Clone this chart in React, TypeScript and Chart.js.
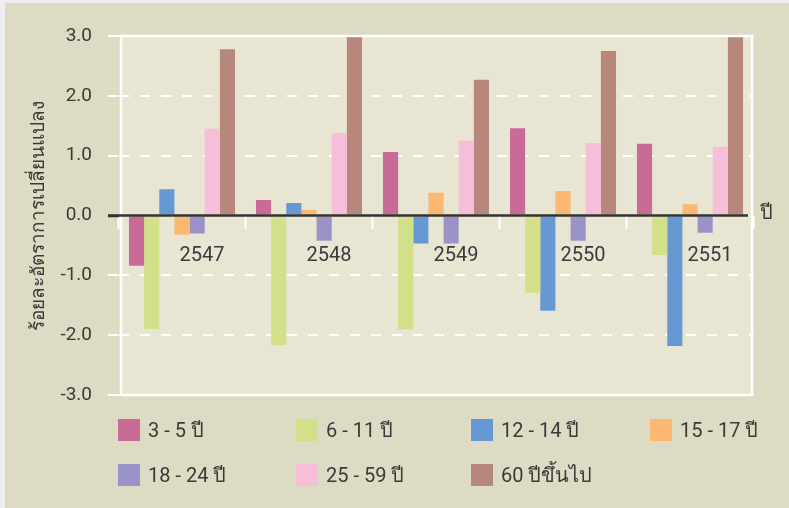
import React, { useEffect, useRef } from "react";
import { Chart, registerables } from "chart.js";

Chart.register(...registerables);

const categories = ["2547", "2548", "2549", "2550", "2551"];
const seriesLabels = ["3 - 5 ปี", "6 - 11 ปี", "12 - 14 ปี", "15 - 17 ปี", "18 - 24 ปี", "25 - 59 ปี", "60 ปีขึ้นไป"];
const age3to5 = [-0.84, 0.26, 1.06, 1.46, 1.2];
const age6to11 = [-1.9, -2.17, -1.9, -1.29, -0.66];
const age12to14 = [0.44, 0.21, -0.47, -1.59, -2.18];
const age15to17 = [-0.32, 0.09, 0.38, 0.41, 0.19];
const age18to24 = [-0.3, -0.42, -0.47, -0.42, -0.29];
const age25to59 = [1.45, 1.38, 1.25, 1.21, 1.15];
const age60plus = [2.78, 2.98, 2.27, 2.75, 2.98];
const seriesValues = [age3to5, age6to11, age12to14, age15to17, age18to24, age25to59, age60plus];
const seriesColors = ["#C86B96", "#D3E08A", "#6699D3", "#FBB870", "#9B93C8", "#F7BED9", "#B8877C"];
const yTitle = "ร้อยละอัตราการเปลี่ยนแปลง";
const xTitle = "ปี";
const yMin = -3;
const yMax = 3;
const yStep = 1;

const FONT = "Roboto, 'Noto Sans', 'DejaVu Sans', sans-serif";
const TEXT = "#3A3A3A";

const framePlugin = {
  id: "frame",
  beforeDraw(chart: any) {
    const { ctx, chartArea } = chart;
    const left = chartArea.left + 2.5;
    const right = chartArea.right - 1.5;
    const { top, bottom } = chartArea;
    ctx.save();
    ctx.fillStyle = "#E8E5D3";
    ctx.fillRect(left, top, right - left, bottom - top);
    ctx.strokeStyle = "#FFFFFF";
    ctx.lineWidth = 2.5;
    ctx.strokeRect(left, top, right - left, bottom - top);
    ctx.restore();
  },
  afterDatasetsDraw(chart: any) {
    const { ctx, chartArea, scales } = chart;
    const y = scales.y.getPixelForValue(0);
    ctx.save();
    ctx.strokeStyle = "#333333";
    ctx.lineWidth = 2.5;
    ctx.beginPath();
    ctx.moveTo(chartArea.left - 10.5, y);
    ctx.lineTo(chartArea.right - 5.5, y);
    ctx.stroke();
    ctx.restore();
  },
};

function ChartCanvas() {
  const ref = useRef<HTMLCanvasElement | null>(null);
  useEffect(() => {
    if (!ref.current) return;
    const chart = new Chart(ref.current, {
      type: "bar",
      data: {
        labels: categories,
        datasets: seriesValues.map((d, i) => ({
          label: seriesLabels[i],
          data: d,
          backgroundColor: seriesColors[i],
          borderWidth: 0,
          barPercentage: 1,
          categoryPercentage: 0.835,
        })),
      },
      options: {
        animation: false,
        responsive: false,
        maintainAspectRatio: false,
        layout: { padding: { top: 36, right: 35.5, bottom: 113, left: 0 } },
        plugins: { legend: { display: false }, tooltip: { enabled: false } },
        scales: {
          x: {
            position: { y: 0 } as any,
            z: 1,
            grid: {
              display: true,
              drawOnChartArea: false,
              drawTicks: true,
              tickLength: 13,
              tickColor: "#FFFFFF",
              tickWidth: 2,
              offset: true,
            },
            border: { display: false },
            ticks: {
              color: TEXT,
              font: { family: FONT, size: 20 },
              padding: 15,
              labelOffset: 20,
              maxRotation: 0,
              autoSkip: false,
            },
          },
          y: {
            min: yMin,
            max: yMax,
            afterFit: (s: any) => {
              s.width = 118.5;
            },
            ticks: {
              stepSize: yStep,
              callback: (v: any) => Number(v).toFixed(1),
              color: TEXT,
              font: { family: FONT, size: 19 },
              padding: 16,
            },
            grid: {
              color: (c: any) => (c.tick && c.tick.value === 0 ? "rgba(0,0,0,0)" : "#FFFFFF"),
              lineWidth: 2,
              tickLength: 10.5,
              tickWidth: (c: any) => (c.tick && c.tick.value === 0 ? 2.5 : 2),
              tickColor: (c: any) => (c.tick && c.tick.value === 0 ? "#333333" : "#FFFFFF"),
              tickBorderDash: (c: any) => {
                const v = c.tick ? c.tick.value : 1;
                return v === 0 || Math.abs(v) === 3 ? [] : [10, 11];
              },
            },
            border: { display: false, dash: [10, 11] },
            title: {
              display: true,
              text: yTitle,
              color: TEXT,
              font: { family: FONT, size: 19 },
              padding: { top: 28, bottom: 0 },
            },
          },
        },
      },
      plugins: [framePlugin],
    });
    return () => chart.destroy();
  }, []);
  return (
    <canvas
      ref={ref}
      width={789}
      height={508}
      style={{ position: "absolute", left: 0, top: 0, width: 789, height: 508, display: "block" }}
    />
  );
}

const legendCols = [118, 296, 471, 650];
const legendRows = [419, 464];

export default function App() {
  return (
    <div style={{ position: "relative", width: 789, height: 508, background: "#EEEEEE", overflow: "hidden" }}>
      <style>{`body{margin:0}`}</style>
      <div style={{ position: "absolute", left: 5, top: 3, right: 0, bottom: 0, background: "#DDDBC3" }} />
      <ChartCanvas />
      <div
        style={{
          position: "absolute",
          left: 760,
          top: 202,
          fontFamily: FONT,
          fontSize: 20,
          lineHeight: "20px",
          color: TEXT,
        }}
      >
        {xTitle}
      </div>
      {seriesLabels.map((lab, i) => (
        <div
          key={lab}
          style={{
            position: "absolute",
            left: legendCols[i % 4],
            top: legendRows[Math.floor(i / 4)],
            height: 22,
            display: "flex",
            alignItems: "center",
            fontFamily: FONT,
            fontSize: 20,
            color: TEXT,
            whiteSpace: "nowrap",
          }}
        >
          <span style={{ display: "inline-block", width: 22, height: 22, background: seriesColors[i], marginRight: 8 }} />
          <span>{lab}</span>
        </div>
      ))}
    </div>
  );
}
